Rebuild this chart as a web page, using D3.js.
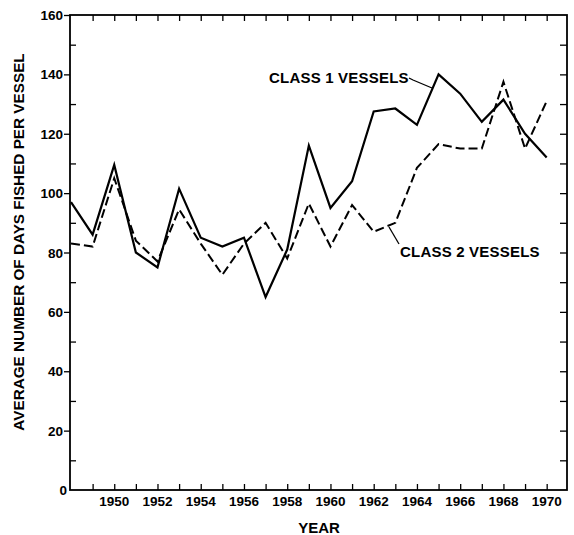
<!DOCTYPE html>
<html>
<head>
<meta charset="utf-8">
<script src="https://cdn.jsdelivr.net/npm/d3@7"></script>
<style>
  html, body { margin: 0; padding: 0; background: #fff; }
  svg { display: block; }
  text { font-family: "Liberation Sans", Arial, sans-serif; fill: #000; }
</style>
</head>
<body>
<script>
const years = [1948,1949,1950,1951,1952,1953,1954,1955,1956,1957,1958,1959,1960,1961,1962,1963,1964,1965,1966,1967,1968,1969,1970];
const class1 = [97,86,109.5,80,75,101.5,85,82,85,65,81,116,95,104,127.5,128.5,123,140,133.5,124,131.5,120,112];
const class2 = [83,82,105,84,77,94.5,83,72.5,83,90,78,96.5,82,96,87,90,108.5,116.5,115,115,137.5,115,131];
const yTickLabels = [0,20,40,60,80,100,120,140,160];
const xTickLabels = [1950,1952,1954,1956,1958,1960,1962,1964,1966,1968,1970];
const seriesLabels = ["CLASS 1 VESSELS", "CLASS 2 VESSELS"];
const xTitle = "YEAR";
const yTitle = "AVERAGE NUMBER OF DAYS FISHED PER VESSEL";

(function () {
const W = 574, H = 535;
const svg = d3.select("body").append("svg").attr("width", W).attr("height", H);

const x = d3.scaleLinear().domain([1948, 1970.94]).range([71, 567]);
const y = d3.scaleLinear().domain([0, 160]).range([490, 15]);
const x0 = 70, x1 = 567, y0 = 490, y1 = 15;

svg.append("rect").attr("x", x0).attr("y", y1).attr("width", x1 - x0).attr("height", y0 - y1)
  .attr("fill", "none").attr("stroke", "#000").attr("stroke-width", 1.8);

const allYears = d3.range(1949, 1971);
const gBottom = svg.append("g").attr("transform", `translate(0,${y0})`)
  .call(d3.axisBottom(x).tickValues(allYears).tickSize(-6).tickFormat(""));
gBottom.select(".domain").remove();
gBottom.selectAll("line").attr("stroke-width", 1.3);
svg.append("g").selectAll("text").data(xTickLabels).join("text")
  .attr("x", d => x(d)).attr("y", 506).attr("text-anchor", "middle")
  .attr("font-size", 13.5).attr("font-weight", "bold")
  .text(d => d);

const gTop = svg.append("g").attr("transform", `translate(0,${y1})`)
  .call(d3.axisTop(x).tickValues(allYears).tickSize(-6).tickFormat(""));
gTop.select(".domain").remove();
gTop.selectAll("line").attr("stroke-width", 1.3);

const gLeft = svg.append("g").attr("transform", `translate(${x0},0)`)
  .call(d3.axisLeft(y).tickValues(yTickLabels.filter(d => d > 0)).tickSize(6).tickFormat(""));
gLeft.select(".domain").remove();
gLeft.selectAll("line").attr("stroke-width", 1.3);
const gLeftMinor = svg.append("g").attr("transform", `translate(${x0},0)`)
  .call(d3.axisLeft(y).tickValues(d3.range(10, 160, 20)).tickSize(-6).tickFormat(""));
gLeftMinor.select(".domain").remove();
gLeftMinor.selectAll("line").attr("stroke-width", 1.3);
svg.append("g").selectAll("text").data(yTickLabels).join("text")
  .attr("x", d => d === 0 ? 67 : 63).attr("y", d => y(d) + 5).attr("text-anchor", "end")
  .attr("font-size", 13.5).attr("font-weight", "bold")
  .text(d => d);

const gRight = svg.append("g").attr("transform", `translate(${x1},0)`)
  .call(d3.axisRight(y).tickValues(d3.range(10, 160, 10)).tickSize(-7).tickFormat(""));
gRight.select(".domain").remove();
gRight.selectAll("line").attr("stroke-width", 1.3);

const line = d3.line().x((d, i) => x(years[i])).y(d => y(d));
svg.append("path").datum(class2).attr("d", line).attr("fill", "none")
  .attr("stroke", "#000").attr("stroke-width", 2).attr("stroke-dasharray", "9,4")
  .attr("stroke-linejoin", "miter");
svg.append("path").datum(class1).attr("d", line).attr("fill", "none")
  .attr("stroke", "#000").attr("stroke-width", 2.2).attr("stroke-linejoin", "miter");

svg.append("text").attr("x", 269).attr("y", 83).attr("font-size", 15).attr("font-weight", "bold")
  .attr("letter-spacing", 0.2).text(seriesLabels[0]);
svg.append("path").attr("d", "M409,78 L413,80 L432,88").attr("fill", "none").attr("stroke", "#000").attr("stroke-width", 1.3);
svg.append("text").attr("x", 400).attr("y", 257).attr("font-size", 15).attr("font-weight", "bold")
  .attr("letter-spacing", 0.2).text(seriesLabels[1]);
svg.append("path").attr("d", "M389,227 L399,244").attr("fill", "none").attr("stroke", "#000").attr("stroke-width", 1.3);

svg.append("text").attr("x", 319).attr("y", 533).attr("text-anchor", "middle")
  .attr("font-size", 15).attr("font-weight", "bold").text(xTitle);
svg.append("text").attr("transform", "translate(24,242) rotate(-90)").attr("text-anchor", "middle")
  .attr("font-size", 15.3).attr("font-weight", "bold").text(yTitle);
})();
</script>
</body>
</html>
